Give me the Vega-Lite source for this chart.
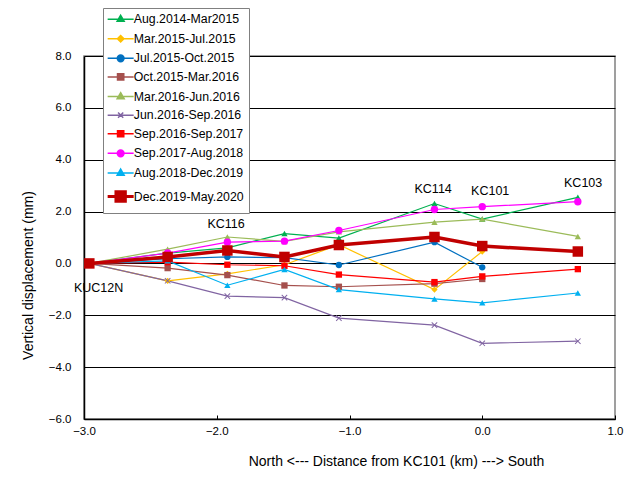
{
  "$schema": "https://vega.github.io/schema/vega-lite/v6.json",
  "width": 531,
  "height": 363,
  "autosize": "none",
  "padding": {"left": 84, "top": 56, "right": 19, "bottom": 62},
  "background": "white",
  "config": {"font": "Liberation Sans", "view": {"stroke": "#808080", "strokeWidth": 1.5}},
  "data": {"values": [
    {"s":"Aug.2014-Mar2015","x":-2.96,"y":0},{"s":"Aug.2014-Mar2015","x":-2.37,"y":0.4},{"s":"Aug.2014-Mar2015","x":-1.92,"y":0.6},{"s":"Aug.2014-Mar2015","x":-1.49,"y":1.15},{"s":"Aug.2014-Mar2015","x":-1.08,"y":0.98},{"s":"Aug.2014-Mar2015","x":-0.36,"y":2.31},{"s":"Aug.2014-Mar2015","x":0.0,"y":1.71},{"s":"Aug.2014-Mar2015","x":0.72,"y":2.55},
    {"s":"Mar.2015-Jul.2015","x":-2.96,"y":0},{"s":"Mar.2015-Jul.2015","x":-2.37,"y":-0.67},{"s":"Mar.2015-Jul.2015","x":-1.92,"y":-0.4},{"s":"Mar.2015-Jul.2015","x":-1.49,"y":-0.05},{"s":"Mar.2015-Jul.2015","x":-1.08,"y":0.72},{"s":"Mar.2015-Jul.2015","x":-0.36,"y":-1.01},{"s":"Mar.2015-Jul.2015","x":0.0,"y":0.46},
    {"s":"Jul.2015-Oct.2015","x":-2.96,"y":0},{"s":"Jul.2015-Oct.2015","x":-2.37,"y":0.18},{"s":"Jul.2015-Oct.2015","x":-1.92,"y":0.25},{"s":"Jul.2015-Oct.2015","x":-1.49,"y":0.22},{"s":"Jul.2015-Oct.2015","x":-1.08,"y":-0.06},{"s":"Jul.2015-Oct.2015","x":-0.36,"y":0.82},{"s":"Jul.2015-Oct.2015","x":0.0,"y":-0.15},
    {"s":"Oct.2015-Mar.2016","x":-2.96,"y":0},{"s":"Oct.2015-Mar.2016","x":-2.37,"y":-0.18},{"s":"Oct.2015-Mar.2016","x":-1.92,"y":-0.45},{"s":"Oct.2015-Mar.2016","x":-1.49,"y":-0.85},{"s":"Oct.2015-Mar.2016","x":-1.08,"y":-0.9},{"s":"Oct.2015-Mar.2016","x":-0.36,"y":-0.78},{"s":"Oct.2015-Mar.2016","x":0.0,"y":-0.6},
    {"s":"Mar.2016-Jun.2016","x":-2.96,"y":0},{"s":"Mar.2016-Jun.2016","x":-2.37,"y":0.55},{"s":"Mar.2016-Jun.2016","x":-1.92,"y":1.02},{"s":"Mar.2016-Jun.2016","x":-1.49,"y":0.85},{"s":"Mar.2016-Jun.2016","x":-1.08,"y":1.22},{"s":"Mar.2016-Jun.2016","x":-0.36,"y":1.59},{"s":"Mar.2016-Jun.2016","x":0.0,"y":1.71},{"s":"Mar.2016-Jun.2016","x":0.72,"y":1.04},
    {"s":"Jun.2016-Sep.2016","x":-2.96,"y":0},{"s":"Jun.2016-Sep.2016","x":-2.37,"y":-0.67},{"s":"Jun.2016-Sep.2016","x":-1.92,"y":-1.26},{"s":"Jun.2016-Sep.2016","x":-1.49,"y":-1.32},{"s":"Jun.2016-Sep.2016","x":-1.08,"y":-2.11},{"s":"Jun.2016-Sep.2016","x":-0.36,"y":-2.38},{"s":"Jun.2016-Sep.2016","x":0.0,"y":-3.08},{"s":"Jun.2016-Sep.2016","x":0.72,"y":-3.0},
    {"s":"Sep.2016-Sep.2017","x":-2.96,"y":0},{"s":"Sep.2016-Sep.2017","x":-2.37,"y":0.05},{"s":"Sep.2016-Sep.2017","x":-1.92,"y":-0.05},{"s":"Sep.2016-Sep.2017","x":-1.49,"y":-0.09},{"s":"Sep.2016-Sep.2017","x":-1.08,"y":-0.43},{"s":"Sep.2016-Sep.2017","x":-0.36,"y":-0.72},{"s":"Sep.2016-Sep.2017","x":0.0,"y":-0.5},{"s":"Sep.2016-Sep.2017","x":0.72,"y":-0.22},
    {"s":"Sep.2017-Aug.2018","x":-2.96,"y":0},{"s":"Sep.2017-Aug.2018","x":-2.37,"y":0.4},{"s":"Sep.2017-Aug.2018","x":-1.92,"y":0.82},{"s":"Sep.2017-Aug.2018","x":-1.49,"y":0.86},{"s":"Sep.2017-Aug.2018","x":-1.08,"y":1.27},{"s":"Sep.2017-Aug.2018","x":-0.36,"y":2.08},{"s":"Sep.2017-Aug.2018","x":0.0,"y":2.19},{"s":"Sep.2017-Aug.2018","x":0.72,"y":2.38},
    {"s":"Aug.2018-Dec.2019","x":-2.96,"y":0},{"s":"Aug.2018-Dec.2019","x":-2.37,"y":0.1},{"s":"Aug.2018-Dec.2019","x":-1.92,"y":-0.84},{"s":"Aug.2018-Dec.2019","x":-1.49,"y":-0.23},{"s":"Aug.2018-Dec.2019","x":-1.08,"y":-1.01},{"s":"Aug.2018-Dec.2019","x":-0.36,"y":-1.37},{"s":"Aug.2018-Dec.2019","x":0.0,"y":-1.52},{"s":"Aug.2018-Dec.2019","x":0.72,"y":-1.14},
    {"s":"Dec.2019-May.2020","x":-2.96,"y":0},{"s":"Dec.2019-May.2020","x":-2.37,"y":0.25},{"s":"Dec.2019-May.2020","x":-1.92,"y":0.5},{"s":"Dec.2019-May.2020","x":-1.49,"y":0.25},{"s":"Dec.2019-May.2020","x":-1.08,"y":0.71},{"s":"Dec.2019-May.2020","x":-0.36,"y":1.02},{"s":"Dec.2019-May.2020","x":0.0,"y":0.67},{"s":"Dec.2019-May.2020","x":0.72,"y":0.46}
  ]},
  "encoding": {
    "x": {"field": "x", "type": "quantitative", "scale": {"domain": [-3, 1], "nice": false, "zero": false},
      "axis": {"values": [-3, -2, -1, 0, 1], "format": ".1f", "grid": false, "domainColor": "black", "domainWidth": 1.5, "tickColor": "black", "tickSize": -4, "tickWidth": 1, "labelPadding": 10, "labelFontSize": 11.5, "labelColor": "black", "labelFlush": false, "labelOverlap": false,
        "title": "North <--- Distance from KC101 (km) ---> South", "titleFontSize": 14, "titleFontWeight": "normal", "titleColor": "black", "titleX": 312, "titleY": 42, "titleBaseline": "middle", "titleAlign": "center"}},
    "y": {"field": "y", "type": "quantitative", "scale": {"domain": [-6, 8], "nice": false, "zero": false},
      "axis": {"values": [-6, -4, -2, 0, 2, 4, 6, 8], "format": ".1f", "grid": true, "gridColor": "black", "gridWidth": 1, "gridOpacity": 1, "domainColor": "black", "domainWidth": 1.5, "ticks": false, "labelPadding": 13, "labelFontSize": 11.5, "labelColor": "black", "labelFlush": false, "labelOverlap": false,
        "title": "Vertical displacement (mm)", "titleFontSize": 14, "titleFontWeight": "normal", "titleColor": "black", "titleX": -56, "titleY": 219, "titleBaseline": "middle", "titleAlign": "center", "titleAngle": -90}},
    "color": {"field": "s", "type": "nominal", "scale": {"domain": ["Aug.2014-Mar2015","Mar.2015-Jul.2015","Jul.2015-Oct.2015","Oct.2015-Mar.2016","Mar.2016-Jun.2016","Jun.2016-Sep.2016","Sep.2016-Sep.2017","Sep.2017-Aug.2018","Aug.2018-Dec.2019","Dec.2019-May.2020"], "range": ["#00B050","#FFC000","#0070C0","#A5504D","#9BBB59","#8064A2","#FF0000","#FF00FF","#00B0F0","#C00000"]},
      "legend": {"orient": "none", "legendX": 19, "legendY": -48, "title": null, "padding": 5, "rowPadding": 5.6, "strokeColor": "#808080", "fillColor": "white", "labelFontSize": 12.3, "labelColor": "black", "labelOffset": 7, "symbolOffset": 6.5, "symbolSize": 676, "labelLimit": 300,
        "labelExpr": "datum.label + '\u00a0\u00a0\u00a0\u00a0\u00a0\u00a0'",
        "encode": {"symbols": {"update": {
          "shape": {"signal": "(datum.value==='Aug.2014-Mar2015'||datum.value==='Mar.2016-Jun.2016'||datum.value==='Aug.2018-Dec.2019') ? 'M-1,0H1M0,-0.3L0.27,0.17L-0.27,0.17Z' : datum.value==='Mar.2015-Jul.2015' ? 'M-1,0H1M0,-0.25L0.25,0L0,0.25L-0.25,0Z' : (datum.value==='Jul.2015-Oct.2015'||datum.value==='Sep.2017-Aug.2018') ? 'M-1,0H1M-0.26,0A0.26,0.26,0,1,0,0.26,0A0.26,0.26,0,1,0,-0.26,0Z' : datum.value==='Jun.2016-Sep.2016' ? 'M-1,0H1M-0.2,-0.2L0.2,0.2M-0.2,0.2L0.2,-0.2' : datum.value==='Dec.2019-May.2020' ? 'M-1,0H1M-0.36,-0.36H0.36V0.36H-0.36Z' : 'M-1,0H1M-0.24,-0.24H0.24V0.24H-0.24Z'"},
          "fill": {"scale": "color", "field": "value"},
          "stroke": {"scale": "color", "field": "value"},
          "strokeWidth": {"signal": "datum.value==='Dec.2019-May.2020' ? 3 : 1.5"},
          "size": {"value": 676},
          "opacity": {"value": 1}
        }}}}}
  },
  "layer": [
    {
      "mark": {"type": "line"},
      "encoding": {
        "strokeWidth": {"condition": {"test": "datum.s === 'Dec.2019-May.2020'", "value": 3.5}, "value": 1.2}
      }
    },
    {
      "mark": {"type": "point", "filled": true, "opacity": 1},
      "encoding": {
        "shape": {"condition": [
          {"test": "datum.s === 'Mar.2015-Jul.2015'", "value": "diamond"},
          {"test": "datum.s === 'Jul.2015-Oct.2015' || datum.s === 'Sep.2017-Aug.2018'", "value": "circle"},
          {"test": "datum.s === 'Oct.2015-Mar.2016' || datum.s === 'Sep.2016-Sep.2017' || datum.s === 'Dec.2019-May.2020'", "value": "square"},
          {"test": "datum.s === 'Jun.2016-Sep.2016'", "value": "M-0.88,-1.12L1.12,0.88L0.88,1.12L-1.12,-0.88ZM0.88,-1.12L1.12,-0.88L-0.88,1.12L-1.12,0.88Z"}
        ], "value": "triangle-up"},
        "size": {"condition": [{"test": "datum.s === 'Dec.2019-May.2020'", "value": 110}, {"test": "datum.s === 'Sep.2017-Aug.2018'", "value": 55}, {"test": "datum.s === 'Jun.2016-Sep.2016'", "value": 30}], "value": 40}
      }
    },
    {
      "data": {"values": [
        {"label": "KUC12N", "x": -2.89, "y": -0.93},
        {"label": "KC116", "x": -1.93, "y": 1.53},
        {"label": "KC114", "x": -0.37, "y": 2.86},
        {"label": "KC101", "x": 0.06, "y": 2.81},
        {"label": "KC103", "x": 0.76, "y": 3.09}
      ]},
      "mark": {"type": "text", "fontSize": 12.5, "color": "black", "baseline": "middle", "align": "center"},
      "encoding": {"text": {"field": "label", "type": "nominal"}, "color": {"value": "black"}}
    }
  ]
}
